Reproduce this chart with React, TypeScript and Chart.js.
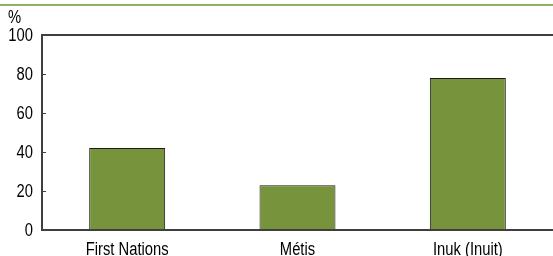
import React, { useEffect, useRef } from "react";
import { Chart, registerables } from "chart.js";

Chart.register(...registerables);

const categories = ["First Nations", "Métis", "Inuk (Inuit)"];
const values = [42, 23, 78];
const yTicks = [0, 20, 40, 60, 80, 100];
const unitLabel = "%";

const FONT = "'Liberation Sans', Arial, sans-serif";
const AXIS = "#3f3f3f";
const NARROW = 0.82;

function narrowText(ctx: CanvasRenderingContext2D, text: string, x: number, y: number, size: number, align: "left" | "center" | "right", baseline: CanvasTextBaseline) {
  ctx.save();
  ctx.font = `${size}px ${FONT}`;
  ctx.fillStyle = "#000";
  ctx.textAlign = align;
  ctx.textBaseline = baseline;
  ctx.translate(x, y);
  ctx.scale(NARROW, 1);
  ctx.fillText(text, 0, 0);
  ctx.restore();
}

const decor = {
  id: "decor",
  beforeDraw(chart: any) {
    const ctx = chart.ctx;
    ctx.save();
    ctx.strokeStyle = "#8fae6a";
    ctx.lineWidth = 2;
    ctx.beginPath();
    ctx.moveTo(0, 5);
    ctx.lineTo(chart.width, 5);
    ctx.stroke();
    ctx.restore();
    narrowText(ctx, unitLabel, 8, 23, 18, "left", "alphabetic");
  },
  afterDraw(chart: any) {
    const ctx = chart.ctx;
    const y = chart.scales.y;
    const x = chart.scales.x;
    const left = chart.chartArea.left;
    ctx.save();
    ctx.strokeStyle = AXIS;
    ctx.lineWidth = 1;
    y.ticks.forEach((t: any) => {
      const py = Math.round(y.getPixelForValue(t.value)) + 0.5;
      ctx.beginPath();
      ctx.moveTo(left, py);
      ctx.lineTo(left + 4, py);
      ctx.stroke();
    });
    ctx.restore();
    y.ticks.forEach((t: any) => {
      narrowText(ctx, String(t.value), left - 9, y.getPixelForValue(t.value) + 1.5, 18, "right", "middle");
    });
    categories.forEach((c, i) => {
      narrowText(ctx, c, x.getPixelForTick(i), chart.chartArea.bottom + 25, 18, "center", "alphabetic");
    });
  },
};

export default function App() {
  const ref = useRef<HTMLCanvasElement | null>(null);
  useEffect(() => {
    document.body.style.margin = "0";
    const chart = new Chart(ref.current!, {
      type: "bar",
      data: {
        labels: categories,
        datasets: [
          {
            data: values,
            backgroundColor: "#77933c",
            borderColor: "#1a1a1a",
            borderWidth: 1,
            barPercentage: 0.446,
            categoryPercentage: 1,
          },
        ],
      },
      options: {
        responsive: false,
        animation: false,
        layout: { padding: { top: 35, right: 0, left: 0, bottom: 0 } },
        plugins: { legend: { display: false }, tooltip: { enabled: false } },
        scales: {
          x: {
            grid: { display: false, drawTicks: false },
            border: { display: true, color: AXIS, width: 2 },
            ticks: { display: false },
            afterFit: (s: any) => {
              s.height = 26;
            },
          },
          y: {
            min: 0,
            max: 100,
            afterBuildTicks: (s: any) => {
              s.ticks = yTicks.map((v) => ({ value: v }));
            },
            grid: {
              drawTicks: false,
              color: (c: any) => (c.tick && c.tick.value === 100 ? AXIS : "transparent"),
              lineWidth: 2,
            },
            border: { display: true, color: AXIS, width: 2 },
            ticks: { display: false },
            afterFit: (s: any) => {
              s.width = 42;
            },
          },
        },
      },
      plugins: [decor],
    });
    return () => chart.destroy();
  }, []);
  return (
    <div style={{ position: "absolute", left: 0, top: 0, width: 553, height: 256 }}>
      <canvas ref={ref} width={553} height={256} style={{ width: 553, height: 256 }} />
    </div>
  );
}
